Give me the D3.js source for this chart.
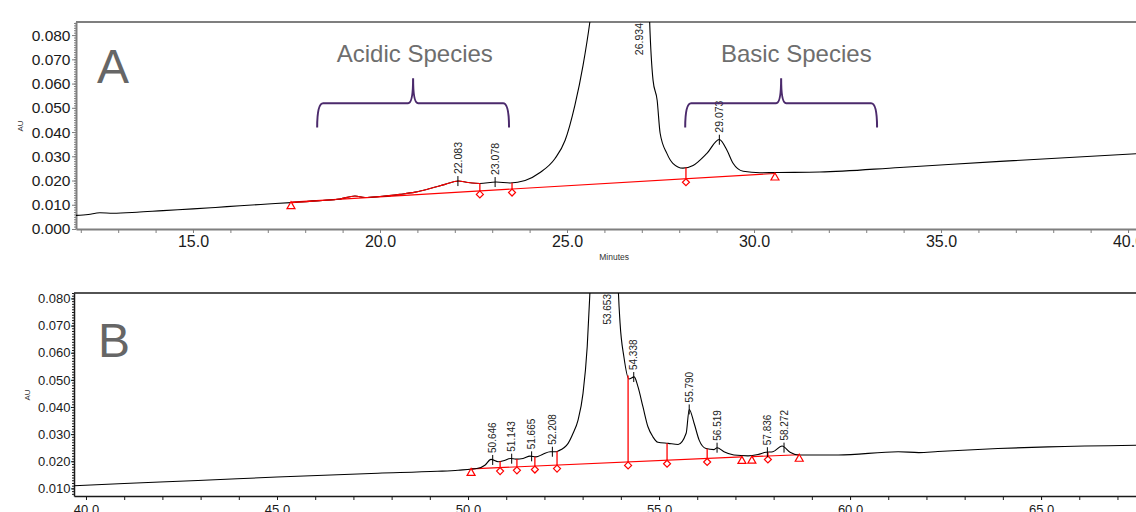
<!DOCTYPE html>
<meta charset="utf-8">
<head>
  <style>
    body { margin: 0; background: #fff; }
    svg text { font-family: Arial, "Liberation Sans", sans-serif; }
  </style>
  <title></title>
</head>
<body>
<div id="my_dataviz"></div>
<script src="https://d3js.org/d3.v7.min.js"></script>
<script>

// ---- panel A : trace (minutes, AU) ----
var timeA = [11.87, 12.2, 12.51, 12.86, 13.5, 14.2, 15.0, 15.6, 16.26, 17.0, 17.73, 18.4, 18.93, 19.33, 19.6, 20.0,
  20.53, 20.94, 21.34, 21.74, 22.09, 22.35, 22.67, 23.1, 23.48, 23.88, 24.28, 24.68, 24.95, 25.21, 25.43, 25.61,
  25.8, 26.1, 26.5, 26.93, 27.1, 27.2, 27.3, 27.41, 27.49, 27.67, 27.83, 28.1, 28.37, 28.74, 29.07, 29.28, 29.44,
  29.71, 30.16, 30.56, 31.76, 33.9, 36.58, 40.3];
var auA = [0.0056, 0.0060, 0.0067, 0.0065, 0.0069, 0.0076, 0.0083, 0.0089, 0.0096, 0.0103, 0.0110, 0.0117, 0.0124, 0.0136, 0.0130, 0.0134,
  0.0143, 0.0152, 0.0167, 0.0184, 0.0198, 0.0192, 0.0188, 0.0194, 0.0190, 0.0200, 0.0233, 0.0291, 0.0366, 0.0510, 0.0676, 0.0853,
  0.110, 0.160, 0.250, 0.320, 0.160, 0.090, 0.0614, 0.0531, 0.0395, 0.0312, 0.0271, 0.0251, 0.0262, 0.0312, 0.0369, 0.0324, 0.0271,
  0.0238, 0.0232, 0.0233, 0.0235, 0.0254, 0.0279, 0.0311];
var baseA = [[[17.62, 0.0111], [30.56, 0.0229]]];
var triA = [17.62, 30.56];
var diaA = [22.67, 23.53, 28.18];
var peaksA = [22.083, 23.078, 26.934, 29.073];
var redA = [17.62, 22.67];

// ---- panel B ----
var timeB = [39.69, 41.0, 42.93, 45.0, 47.64, 49.2, 49.74, 50.26, 50.45, 50.6, 50.79, 50.97, 51.1, 51.26, 51.44, 51.62,
  51.78, 51.96, 52.15, 52.3, 52.36, 52.62, 52.75, 52.88, 53.01, 53.12, 53.2, 53.4, 53.65, 53.85, 53.93, 53.98, 54.08,
  54.21, 54.35, 54.45, 54.58, 54.71, 54.84, 54.97, 55.24, 55.5, 55.71, 55.79, 55.92, 56.05, 56.23, 56.44, 56.52, 56.7,
  56.96, 57.33, 57.59, 57.8, 57.98, 58.22, 58.43, 58.64, 59.69, 61.26, 61.8, 62.3, 63.87, 65.18, 67.6];
var auB = [0.0110, 0.0118, 0.0129, 0.0142, 0.0156, 0.0163, 0.0167, 0.0174, 0.0186, 0.0207, 0.0198, 0.0204, 0.0210, 0.0208, 0.0210, 0.0219,
  0.0216, 0.0226, 0.0235, 0.0235, 0.0238, 0.0266, 0.0303, 0.0352, 0.0450, 0.0622, 0.085, 0.150, 0.250, 0.140, 0.085, 0.0709, 0.0585,
  0.0503, 0.0511, 0.0474, 0.0400, 0.0327, 0.0290, 0.0270, 0.0266, 0.0262, 0.0303, 0.0391, 0.0339, 0.0278, 0.0247, 0.0243, 0.0250, 0.0235,
  0.0223, 0.0220, 0.0225, 0.0233, 0.0235, 0.0256, 0.0233, 0.0223, 0.0223, 0.0235, 0.0232, 0.0236, 0.0247, 0.0253, 0.0259];
var baseB = [[[50.08, 0.0172], [57.17, 0.0216]], [[57.43, 0.0217], [58.67, 0.0224]]];
var triB = [50.08, 57.17, 57.43, 58.67];
var diaB = [50.84, 51.28, 51.75, 52.33, 54.19, 55.21, 56.26, 57.85];
var peaksB = [50.646, 51.143, 51.665, 52.208, 53.653, 54.338, 55.790, 56.519, 57.836, 58.272];

// annotations on panel A (minutes / AU)
var braceNames = ["Acidic Species", "Basic Species"];
var braceFrom = [18.32, 28.16];
var braceTo = [23.45, 33.29];
var braceTextAt = [20.93, 31.13];

var svg = d3.select("#my_dataviz").append("svg")
  .attr("width", 1136).attr("height", 512);

var line = d3.line().curve(d3.curveMonotoneX);

function interp(ts, vs, t) {
  var i = d3.bisectRight(ts, t);
  if (i <= 0) return vs[0];
  if (i >= ts.length) return vs[vs.length - 1];
  var f = (t - ts[i - 1]) / (ts[i] - ts[i - 1]);
  return vs[i - 1] + f * (vs[i] - vs[i - 1]);
}

function baseAt(segs, t) {
  var s = segs.find(function(s) { return t >= s[0][0] - 1e-6 && t <= s[1][0] + 1e-6; }) || segs[0];
  var f = (t - s[0][0]) / (s[1][0] - s[0][0]);
  return s[0][1] + f * (s[1][1] - s[0][1]);
}

function drawPanel(cfg) {
  var g = svg.append("g").attr("transform", "translate(" + cfg.left + "," + cfg.top + ")");
  var x = d3.scaleLinear().domain(cfg.xDomain).range([0, cfg.width]);
  var y = d3.scaleLinear().domain(cfg.yDomain).range([cfg.height, 0]);

  g.append("clipPath").attr("id", cfg.id)
    .append("rect").attr("width", cfg.width).attr("height", cfg.height);

  // minor ticks
  g.append("g")
    .call(d3.axisLeft(y).tickValues(cfg.yMinor).tickSize(2).tickFormat(""))
    .call(function(a) { a.select(".domain").remove(); a.selectAll("line").attr("stroke", cfg.axisColor); });
  // y axis
  g.append("g")
    .call(d3.axisLeft(y).tickValues(cfg.yMajor).tickSize(cfg.yTick).tickSizeOuter(0).tickPadding(cfg.yPad).tickFormat(d3.format(".3f")))
    .call(function(a) {
      a.select(".domain").attr("stroke", cfg.axisColor).attr("stroke-width", cfg.axisWidth);
      a.selectAll("line").attr("stroke", cfg.axisColor);
      a.selectAll("text").style("font-size", cfg.yFont + "px").attr("fill", "#1a1a1a");
    });
  // x axis
  g.append("g").attr("transform", "translate(0," + cfg.height + ")")
    .call(d3.axisBottom(x).tickValues(cfg.xMinor).tickSize(4).tickFormat(""))
    .call(function(a) { a.select(".domain").remove(); a.selectAll("line").attr("stroke", cfg.axisColor); });
  g.append("g").attr("transform", "translate(0," + cfg.height + ")")
    .call(d3.axisBottom(x).tickValues(cfg.xMajor).tickSize(4).tickSizeOuter(0).tickPadding(cfg.xPad).tickFormat(d3.format(".1f")))
    .call(function(a) {
      a.select(".domain").attr("stroke", cfg.axisColor).attr("stroke-width", cfg.axisWidth);
      a.selectAll("line").attr("stroke", cfg.axisColor);
      a.selectAll("text").style("font-size", cfg.xFont + "px").attr("fill", "#1a1a1a");
    });
  // top frame
  g.append("line").attr("x1", 0).attr("x2", cfg.width).attr("y1", 0).attr("y2", 0)
    .attr("stroke", cfg.axisColor).attr("stroke-width", cfg.axisWidth);

  g.append("text").attr("transform", "translate(" + cfg.auX + "," + cfg.auY + ") rotate(-90)")
    .attr("text-anchor", "middle").style("font-size", "8px").attr("fill", "#333").text("AU");

  g.append("text").attr("x", cfg.letterX).attr("y", cfg.letterY)
    .style("font-size", "48px").attr("fill", "#666").text(cfg.letter);

  var plot = g.append("g").attr("clip-path", "url(#" + cfg.id + ")");
  var pts = cfg.t.map(function(t, i) { return [x(t), y(cfg.v[i])]; });

  // baseline segments
  cfg.base.forEach(function(s) {
    plot.append("line")
      .attr("x1", x(s[0][0])).attr("y1", y(s[0][1]))
      .attr("x2", x(s[1][0])).attr("y2", y(s[1][1]))
      .attr("stroke", "#ff0000").attr("stroke-width", 1.1);
  });

  plot.append("path").datum(pts).attr("d", line)
    .attr("fill", "none").attr("stroke", "#000").attr("stroke-width", 1.1);

  if (cfg.red) {
    var a = cfg.red[0], b = cfg.red[1];
    var rp = [[x(a), y(interp(cfg.t, cfg.v, a))]];
    cfg.t.forEach(function(t, i) { if (t > a && t < b) rp.push([x(t), y(cfg.v[i])]); });
    rp.push([x(b), y(interp(cfg.t, cfg.v, b))]);
    plot.append("path").datum(rp).attr("d", line)
      .attr("fill", "none").attr("stroke", "#ff0000").attr("stroke-width", 1.1);
  }

  // drop lines
  cfg.dia.forEach(function(t) {
    plot.append("line")
      .attr("x1", x(t)).attr("x2", x(t))
      .attr("y1", y(interp(cfg.t, cfg.v, t))).attr("y2", y(baseAt(cfg.base, t)))
      .attr("stroke", "#ff0000").attr("stroke-width", 1.3);
  });

  // markers
  cfg.tri.forEach(function(t) {
    g.append("path").attr("d", "M0,-4L4,3L-4,3Z")
      .attr("transform", "translate(" + x(t) + "," + (y(baseAt(cfg.base, t)) + 3.5) + ")")
      .attr("fill", "#fff").attr("stroke", "#ff0000").attr("stroke-width", 1.2);
  });
  cfg.dia.forEach(function(t) {
    g.append("path").attr("d", "M0,-3.5L3.5,0L0,3.5L-3.5,0Z")
      .attr("transform", "translate(" + x(t) + "," + (y(baseAt(cfg.base, t)) + 3.5) + ")")
      .attr("fill", "#fff").attr("stroke", "#ff0000").attr("stroke-width", 1.2);
  });

  // peak labels
  cfg.peaks.forEach(function(t) {
    var v = interp(cfg.t, cfg.v, t);
    var px = x(t);
    if (v > cfg.yDomain[1]) {
      g.append("text").attr("transform", "translate(" + px + ",1) rotate(-90)")
        .attr("text-anchor", "end").attr("dy", "0.35em")
        .style("font-size", cfg.peakFont + "px").attr("fill", "#222").text(d3.format(".3f")(t));
    } else {
      var py = y(v);
      g.append("line").attr("x1", px).attr("x2", px).attr("y1", py - 5).attr("y2", py + 5)
        .attr("stroke", "#000").attr("stroke-width", 1);
      g.append("text").attr("transform", "translate(" + px + "," + (py - 7) + ") rotate(-90)")
        .attr("text-anchor", "start").attr("dy", "0.35em")
        .style("font-size", cfg.peakFont + "px").attr("fill", "#222").text(d3.format(".3f")(t));
    }
  });

  return { g: g, x: x, y: y };
}

var A = drawPanel({
  id: "clipA", left: 76, top: 22, width: 1064, height: 207,
  xDomain: [11.872, 40.32], yDomain: [0, 0.0854],
  xMajor: [15, 20, 25, 30, 35, 40], xMinor: d3.range(12, 41),
  yMajor: d3.range(0, 9).map(function(i) { return i / 100; }),
  yMinor: d3.range(0, 86).map(function(i) { return i / 1000; }),
  axisColor: "#7f7f7f", axisWidth: 2, yTick: 4, yPad: 1.5, xPad: 2.6, yFont: 15.5, xFont: 16,
  auX: -53, auY: 104, letter: "A", letterX: 21, letterY: 61,
  t: timeA, v: auA, base: baseA, tri: triA, dia: diaA, peaks: peaksA, red: redA, peakFont: 10.5
});

A.g.append("text").attr("x", A.x(26.26)).attr("y", 238).attr("text-anchor", "middle")
  .style("font-size", "8.5px").attr("fill", "#333").text("Minutes");

// braces
braceNames.forEach(function(name, i) {
  var x0 = A.x(braceFrom[i]), x1 = A.x(braceTo[i]), xm = (x0 + x1) / 2;
  var yb = A.y(0.0419), yh = A.y(0.0519), yt = A.y(0.0622);
  var p = d3.path();
  p.moveTo(x0, yb);
  p.quadraticCurveTo(x0, yh, x0 + 6, yh);
  p.lineTo(xm - 5, yh);
  p.quadraticCurveTo(xm, yh, xm, yt);
  p.quadraticCurveTo(xm, yh, xm + 5, yh);
  p.lineTo(x1 - 6, yh);
  p.quadraticCurveTo(x1, yh, x1, yb);
  A.g.append("path").attr("d", p.toString())
    .attr("fill", "none").attr("stroke", "#4b2a6c").attr("stroke-width", 2);
  A.g.append("text").attr("x", A.x(braceTextAt[i])).attr("y", A.y(0.0688))
    .attr("text-anchor", "middle").style("font-size", "24px").attr("fill", "#6e6e6e").text(name);
});

drawPanel({
  id: "clipB", left: 74, top: 293, width: 1066, height: 203,
  xDomain: [39.686, 67.59], yDomain: [0.0072, 0.082],
  xMajor: [40, 45, 50, 55, 60, 65], xMinor: d3.range(40, 68),
  yMajor: d3.range(1, 9).map(function(i) { return i / 100; }),
  yMinor: d3.range(8, 83).map(function(i) { return i / 1000; }),
  axisColor: "#1a1a1a", axisWidth: 1.5, yTick: 3, yPad: 0.5, xPad: 4.3, yFont: 13, xFont: 13,
  auX: -44, auY: 102, letter: "B", letterX: 24, letterY: 64,
  t: timeB, v: auB, base: baseB, tri: triB, dia: diaB, peaks: peaksB, peakFont: 10
});

</script>
</body>
